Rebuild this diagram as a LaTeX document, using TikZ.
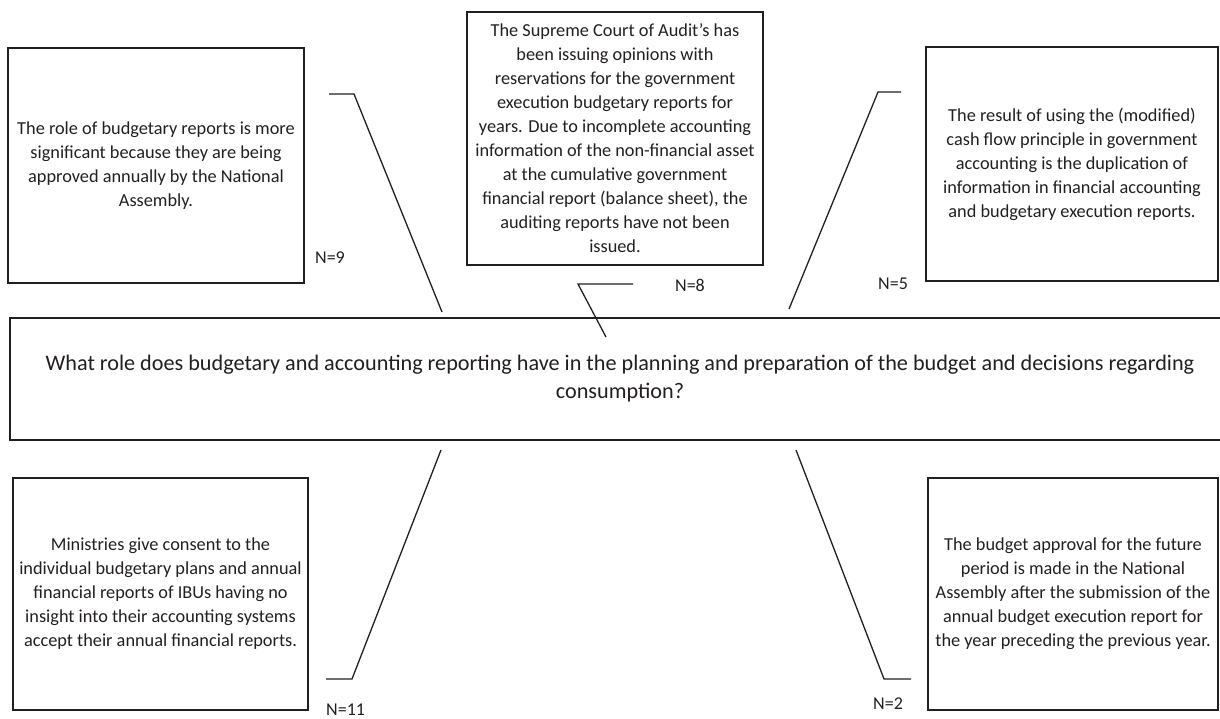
\documentclass[tikz,border=0pt]{standalone}
\usepackage{fontspec}
\setmainfont{Carlito}
\definecolor{ink}{HTML}{231F20}
\begin{document}
\begin{tikzpicture}[x=1pt,y=-1pt,
  box/.style={draw=ink,line width=1.4pt,inner sep=0pt,align=center,text=ink,
    font=\fontsize{18.3}{24}\selectfont},
  qbox/.style={box,font=\fontsize{22.2}{28}\selectfont},
  lead/.style={draw=ink,line width=1.3pt},
  nlabel/.style={text=ink,font=\fontsize{18}{20}\selectfont,inner sep=0pt}]
\useasboundingbox (0,0) rectangle (1220,718);
% boxes
\node[box,minimum width=296pt,minimum height=235pt] (b1) at (156,165.5)
 {The role of budgetary reports is more\\significant because they are being\\approved annually by the National\\Assembly.};
\node[box,minimum width=296pt,minimum height=253pt] (b2) at (615,138.5)
 {The Supreme Court of Audit’s has\\been issuing opinions with\\reservations for the government\\execution budgetary reports for\\years. Due to incomplete accounting\\information of the non-financial asset\\at the cumulative government\\financial report (balance sheet), the\\auditing reports have not been\\issued.};
\node[box,minimum width=292pt,minimum height=234pt] (b3) at (1072,164)
 {The result of using the (modified)\\cash flow principle in government\\accounting is the duplication of\\information in financial accounting\\and budgetary execution reports.};
\node[qbox,minimum width=1220pt,minimum height=122pt] (q) at (620,379)
 {What role does budgetary and accounting reporting have in the planning and preparation of the budget and decisions regarding\\consumption?};
\node[box,minimum width=295pt,minimum height=232pt] (b4) at (160.5,594)
 {Ministries give consent to the\\individual budgetary plans and annual\\financial reports of IBUs having no\\insight into their accounting systems\\accept their annual financial reports.};
\node[box,minimum width=290pt,minimum height=232pt] (b5) at (1073,594)
 {The budget approval for the future\\period is made in the National\\Assembly after the submission of the\\annual budget execution report for\\the year preceding the previous year.};
% labels
\node[nlabel] (n9) at (330,258) {N=9};
\node[nlabel] (n8) at (690,285) {N=8};
\node[nlabel] (n5) at (893,284) {N=5};
\node[nlabel,anchor=west] (n11) at (326,710) {N=11};
\node[nlabel] (n2) at (888,704) {N=2};
% leader lines
\coordinate (a1) at (329,94); \coordinate (a2) at (354,94); \coordinate (a3) at (442,312);
\coordinate (c1) at (633,284); \coordinate (c2) at (578,284); \coordinate (c3) at (606,337);
\coordinate (d1) at (901,92); \coordinate (d2) at (878,92); \coordinate (d3) at (789,309);
\coordinate (e1) at (326,679); \coordinate (e2) at (352,679); \coordinate (e3) at (441,450);
\coordinate (f1) at (796,450); \coordinate (f2) at (884,679); \coordinate (f3) at (911,679);
\draw[lead] (a1) -- (a2) -- (a3);
\draw[lead] (c1) -- (c2) -- (c3);
\draw[lead] (d1) -- (d2) -- (d3);
\draw[lead] (e1) -- (e2) -- (e3);
\draw[lead] (f1) -- (f2) -- (f3);
\end{tikzpicture}
\end{document}
